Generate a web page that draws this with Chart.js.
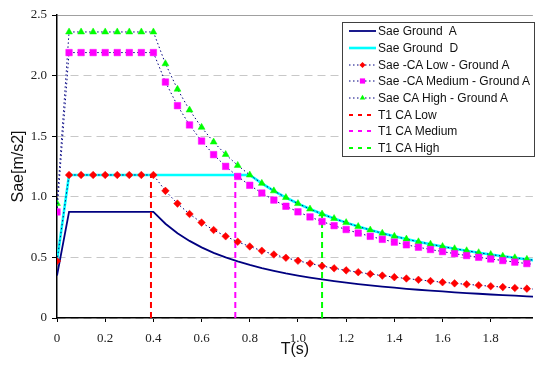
<!DOCTYPE html>
<html>
<head>
<meta charset="utf-8">
<script src="https://cdn.jsdelivr.net/npm/chart.js@4/dist/chart.umd.min.js"></script>
<style>
  body { margin: 0; background: #fff; }
  #wrap { position: relative; width: 538px; height: 366px; }
  #legend {
    position: absolute; left: 342px; top: 22px; width: 191px; height: 133px;
    border: 1px solid #404040; background: #fff;
    font: 12px "Liberation Sans", Arial, sans-serif; color: #111;
  }
  .row { height: 16.7px; display: flex; align-items: center; white-space: pre; }
  .row canvas { margin-left: 6px; margin-right: 2px; }
</style>
</head>
<body>
<div id="wrap">
  <canvas id="chart" width="538" height="366"></canvas>
  <div id="legend"></div>
</div>
<script>
// Period values (s)
const periods = [0, 0.05, 0.1, 0.15, 0.2, 0.25, 0.3, 0.35, 0.4, 0.45, 0.5, 0.55, 0.6, 0.65, 0.7, 0.75, 0.8,
  0.85, 0.9, 0.95, 1.0, 1.05, 1.1, 1.15, 1.2, 1.25, 1.3, 1.35, 1.4, 1.45, 1.5, 1.55, 1.6, 1.65, 1.7, 1.75,
  1.8, 1.85, 1.9, 1.95, 2.0];

// Sae values [m/s2]
const groundA = [0.35, 0.875, 0.875, 0.875, 0.875, 0.875, 0.875, 0.875, 0.875, 0.778, 0.70, 0.636, 0.583,
  0.538, 0.50, 0.467, 0.438, 0.412, 0.389, 0.368, 0.35, 0.333, 0.318, 0.304, 0.292, 0.28, 0.269, 0.259,
  0.25, 0.241, 0.233, 0.226, 0.219, 0.212, 0.206, 0.20, 0.194, 0.189, 0.184, 0.179, 0.175];
const groundD = [0.47, 1.18, 1.18, 1.18, 1.18, 1.18, 1.18, 1.18, 1.18, 1.18, 1.18, 1.18, 1.18, 1.18, 1.18,
  1.18, 1.18, 1.111, 1.049, 0.994, 0.944, 0.899, 0.858, 0.821, 0.787, 0.755, 0.726, 0.699, 0.674, 0.651,
  0.629, 0.609, 0.59, 0.572, 0.555, 0.539, 0.524, 0.51, 0.497, 0.484, 0.472];
const caLow = [0.47, 1.18, 1.18, 1.18, 1.18, 1.18, 1.18, 1.18, 1.18, 1.049, 0.944, 0.858, 0.787, 0.726,
  0.674, 0.629, 0.59, 0.555, 0.524, 0.497, 0.472, 0.45, 0.429, 0.41, 0.393, 0.378, 0.363, 0.35, 0.337,
  0.326, 0.315, 0.305, 0.295, 0.286, 0.278, 0.27, 0.262, 0.255, 0.248, 0.242, 0.236];
const caMedium = [0.875, 2.19, 2.19, 2.19, 2.19, 2.19, 2.19, 2.19, 2.19, 1.947, 1.752, 1.593, 1.46, 1.348,
  1.251, 1.168, 1.095, 1.031, 0.973, 0.922, 0.876, 0.834, 0.796, 0.762, 0.73, 0.701, 0.674, 0.649, 0.626,
  0.604, 0.584, 0.565, 0.548, 0.531, 0.515, 0.501, 0.487, 0.474, 0.461, 0.449, 0.438];
const caHigh = [0.945, 2.36, 2.36, 2.36, 2.36, 2.36, 2.36, 2.36, 2.36, 2.098, 1.888, 1.716, 1.573, 1.452,
  1.349, 1.259, 1.18, 1.111, 1.049, 0.994, 0.944, 0.899, 0.858, 0.821, 0.787, 0.755, 0.726, 0.699, 0.674,
  0.651, 0.629, 0.609, 0.59, 0.572, 0.555, 0.539, 0.524, 0.51, 0.497, 0.484, 0.472];

// T1 markers: period and height of the vertical line
const t1Labels = ['T1 CA Low', 'T1 CA Medium', 'T1 CA High'];
const t1Periods = [0.39, 0.74, 1.1];
const t1Tops = [1.18, 1.18, 0.86];
const t1Colors = ['#ff0000', '#ff00ff', '#00ff00'];

const pts = vals => periods.map((t, i) => ({ x: t, y: vals[i] }));
const navyDots = { borderColor: '#000080', borderWidth: 1, borderDash: [1.5, 2.5] };

const datasets = [
  { label: 'Sae Ground  A', data: pts(groundA), borderColor: '#000080', borderWidth: 1.8, pointRadius: 0, order: 6 },
  { label: 'Sae Ground  D', data: pts(groundD), borderColor: '#00ffff', borderWidth: 2.6, pointRadius: 0, order: 5 },
  { label: 'Sae -CA Low - Ground A', data: pts(caLow), ...navyDots, pointStyle: 'rectRot', pointRadius: 3.8,
    pointBackgroundColor: '#ff0000', pointBorderColor: '#ff0000', pointBorderWidth: 0.5, order: 1 },
  { label: 'Sae -CA Medium - Ground A', data: pts(caMedium), ...navyDots, pointStyle: 'rect', pointRadius: 4.6,
    pointBackgroundColor: '#ff00ff', pointBorderColor: '#ff00ff', pointBorderWidth: 0.5, order: 2 },
  { label: 'Sae CA High - Ground A', data: pts(caHigh), ...navyDots, pointStyle: 'triangle', pointRadius: 4,
    pointBackgroundColor: '#00ff00', pointBorderColor: '#00ff00', pointBorderWidth: 0.5, order: 3 }
];
t1Periods.forEach((t, i) => {
  datasets.push({
    label: t1Labels[i], data: [{ x: t, y: 0 }, { x: t, y: t1Tops[i] }],
    borderColor: t1Colors[i], borderWidth: 2, borderDash: [6, 4], pointRadius: 0, order: 4
  });
});

const tickFont = { family: '"Liberation Serif", "Times New Roman", serif', size: 13 };
const titleFont = { family: '"Liberation Sans", Arial, sans-serif', size: 16 };

const chart = new Chart(document.getElementById('chart').getContext('2d'), {
  type: 'line',
  data: { datasets },
  options: {
    responsive: false,
    animation: false,
    layout: { padding: { top: 15, left: 0, right: 0, bottom: 0 } },
    elements: { line: { tension: 0, fill: false } },
    plugins: { legend: { display: false }, tooltip: { enabled: false } },
    scales: {
      x: {
        type: 'linear', min: 0, max: 1.975,
        ticks: { stepSize: 0.2, includeBounds: false, font: tickFont, color: '#222', padding: 9, maxRotation: 0 },
        grid: { drawOnChartArea: false, drawTicks: true, tickLength: 4, tickColor: '#000' },
        border: { color: '#000', width: 1.5 },
        title: { display: true, text: 'T(s)', font: titleFont, color: '#111', padding: 7 },
        afterFit: s => { s.height = 48; }
      },
      y: {
        min: 0, max: 2.5,
        ticks: { stepSize: 0.5, font: tickFont, color: '#222', padding: 5 },
        grid: {
          color: c => (c.tick && c.tick.value === 2.5) ? '#a0a0a0' : '#c8c8c8',
          tickLength: 5, tickColor: '#000', tickBorderDash: []
        },
        border: {
          color: '#000', width: 1.5,
          dash: c => (c.tick && c.tick.value === 2.5) ? [] : [8, 5]
        },
        title: { display: true, text: 'Sae[m/s2]', font: titleFont, color: '#111', padding: 9 },
        afterFit: s => { s.width = 57; }
      }
    }
  }
});

// legend drawn beside the chart from the datasets
function drawMarker(g, style, r, x, y) {
  g.beginPath();
  if (style === 'rectRot') {
    g.moveTo(x, y - r); g.lineTo(x + r, y); g.lineTo(x, y + r); g.lineTo(x - r, y);
  } else if (style === 'rect') {
    const s = r * Math.SQRT1_2;
    g.rect(x - s, y - s, 2 * s, 2 * s);
  } else if (style === 'triangle') {
    g.moveTo(x, y - r); g.lineTo(x + r * 0.866, y + r * 0.5); g.lineTo(x - r * 0.866, y + r * 0.5);
  }
  g.closePath();
  g.fill();
}

const legend = document.getElementById('legend');
chart.data.datasets.forEach(ds => {
  const row = document.createElement('div');
  row.className = 'row';
  const c = document.createElement('canvas');
  c.width = 27; c.height = 16;
  const g = c.getContext('2d');
  const dashed = ds.label.startsWith('T1');
  g.strokeStyle = ds.borderColor;
  g.lineWidth = dashed ? 2 : ds.borderWidth;
  g.setLineDash(dashed ? [4, 5] : (ds.borderDash || []));
  g.beginPath(); g.moveTo(0, 8); g.lineTo(27, 8); g.stroke();
  if (ds.pointRadius) {
    g.fillStyle = ds.pointBackgroundColor;
    drawMarker(g, ds.pointStyle, ds.pointRadius * 0.8, 13.5, 8);
  }
  const label = document.createElement('span');
  label.textContent = ds.label;
  row.appendChild(c);
  row.appendChild(label);
  legend.appendChild(row);
});
</script>
</body>
</html>
